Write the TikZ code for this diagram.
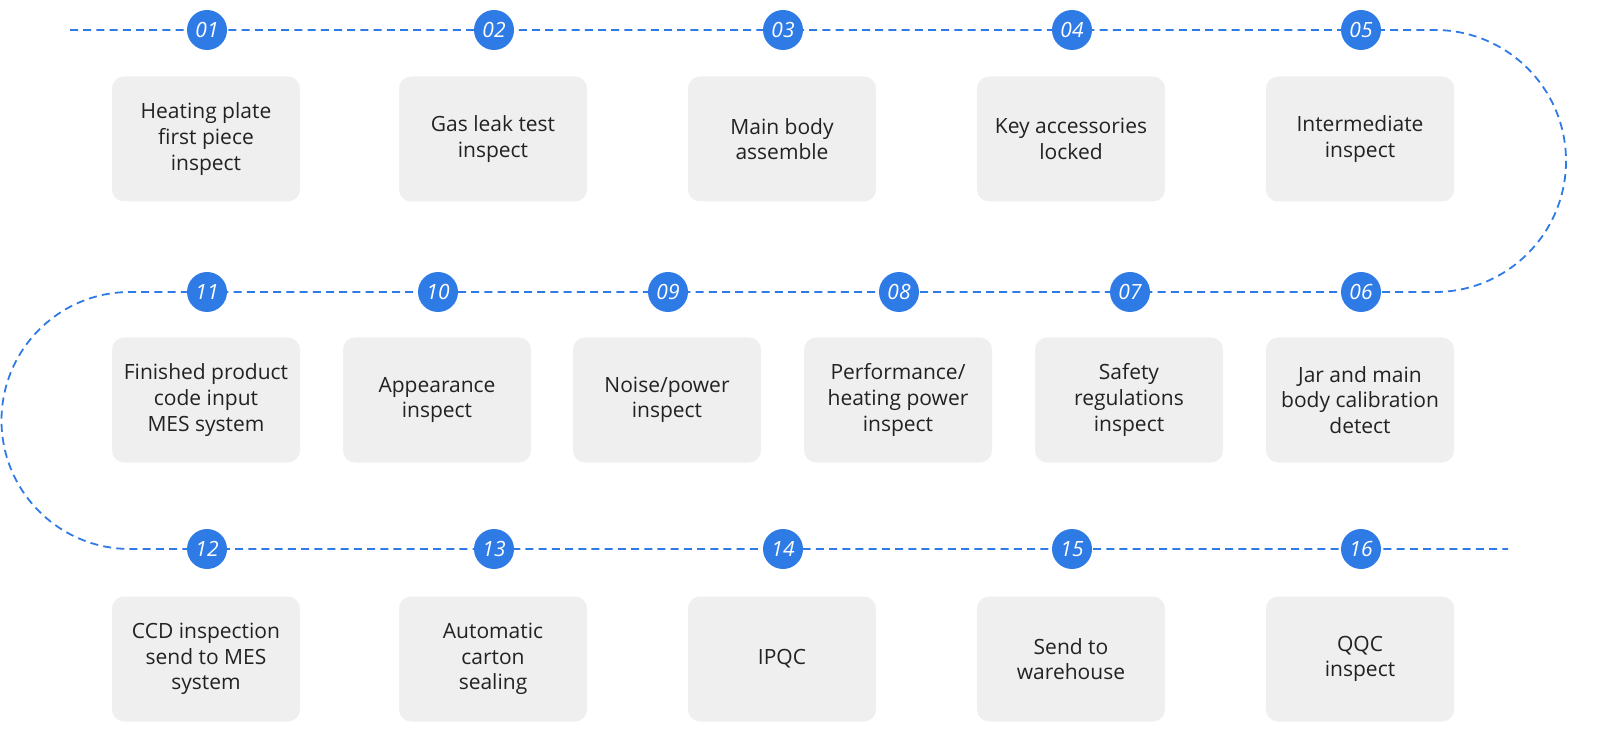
\documentclass[tikz,border=0pt]{standalone}
\usepackage{fontspec}
\setmainfont{Open Sans}
\begin{document}
\definecolor{blu}{HTML}{2F7BE6}
\definecolor{boxg}{HTML}{EFEFEF}
\definecolor{txt}{HTML}{222222}
\begin{tikzpicture}[x=0.5pt,y=-0.5pt,
  dline/.style={blu,line width=0.9pt,dash pattern=on 4pt off 2.6pt},
  num/.style={circle,fill=blu,minimum size=20pt,inner sep=0pt,text=white,font=\fontsize{10.5}{12}\selectfont\itshape},
  box/.style={fill=boxg,rounded corners=6pt,minimum width=94pt,minimum height=62.5pt,align=center,text=txt,font=\fontsize{10.5}{12.8}\selectfont,inner sep=2pt}]
\useasboundingbox (0,0) rectangle (1600,737);
\coordinate (s1) at (70,30);
\coordinate (e1) at (1435,30);
\coordinate (s2) at (130,292);
\coordinate (e3) at (1508,549);
\draw[dline] (s1) -- (e1) arc[start angle=-90,end angle=90,radius=131] -- (s2) arc[start angle=-90,end angle=-270,radius=128.5] -- (e3);
\foreach \n/\x/\t in {01/207/{Heating plate\\first piece\\inspect},02/494/{Gas leak test\\inspect},03/783/{Main body\\assemble},04/1072/{Key accessories\\locked},05/1361/{Intermediate\\inspect}}{
  \node[num] (n\n) at (\x,30) {\n};
  \node[box] (b\n) at (\x-1,139) {\t};
}
\foreach \n/\x/\t in {11/207/{Finished product\\code input\\MES system},10/438/{Appearance\\inspect},09/668/{Noise/power\\inspect},08/899/{Performance/\\heating power\\inspect},07/1130/{Safety\\regulations\\inspect},06/1361/{Jar and main\\body calibration\\detect}}{
  \node[num] (n\n) at (\x,292) {\n};
  \node[box] (b\n) at (\x-1,400) {\t};
}
\foreach \n/\x/\t in {12/207/{CCD inspection\\send to MES\\system},13/494/{Automatic\\carton\\sealing},14/783/{IPQC},15/1072/{Send to\\warehouse},16/1361/{QQC\\inspect}}{
  \node[num] (n\n) at (\x,549) {\n};
  \node[box] (b\n) at (\x-1,659) {\t};
}
\end{tikzpicture}
\end{document}
